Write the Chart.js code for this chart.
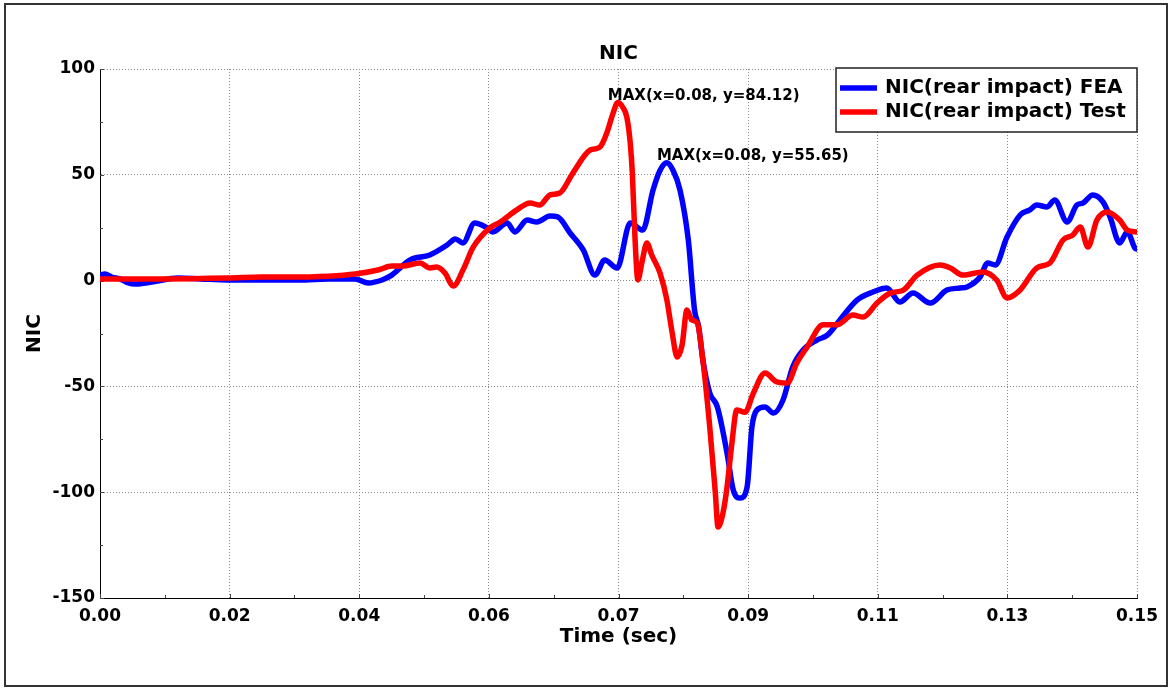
<!DOCTYPE html>
<html><head><meta charset="utf-8">
<script src="https://cdn.jsdelivr.net/npm/chart.js@4.4.0/dist/chart.umd.min.js"></script>
<style>html,body{margin:0;padding:0;background:#fff;}canvas{display:block;}</style>
</head><body>
<canvas id="c" width="1170" height="688"></canvas>
<script>
const chartTitle = 'NIC';
const xAxisTitle = 'Time (sec)';
const yAxisTitle = 'NIC';
const seriesLabels = ['NIC(rear impact) FEA', 'NIC(rear impact) Test'];
const seriesColors = ['#0000ff', '#ff0000'];
const maxLabels = ['MAX(x=0.08, y=55.65)', 'MAX(x=0.08, y=84.12)'];
const xTickValues = [0, 0.01875, 0.0375, 0.05625, 0.075, 0.09375, 0.1125, 0.13125, 0.15];
const xTickLabels = ['0.00','0.02','0.04','0.06','0.07','0.09','0.11','0.13','0.15'];
const yTickValues = [-150, -100, -50, 0, 50, 100];
const yTickLabels = ['-150','-100','-50','0','50','100'];

const feaTime = [0, 0.0007, 0.0017, 0.0029, 0.0041, 0.0051, 0.0075, 0.0113, 0.0145, 0.0185, 0.0234, 0.0289, 0.0330, 0.0369, 0.0388, 0.0408, 0.0422, 0.0448, 0.0477, 0.0502, 0.0514, 0.0525, 0.0542, 0.0560, 0.0568, 0.0589, 0.0600, 0.0618, 0.0632, 0.0651, 0.0662, 0.0680, 0.0699, 0.0716, 0.0730, 0.0748, 0.0767, 0.0785, 0.0800, 0.0810, 0.0820, 0.0829, 0.0839, 0.0851, 0.0860, 0.0866, 0.0872, 0.0882, 0.0893, 0.0907, 0.0916, 0.0926, 0.0936, 0.0943, 0.0950, 0.0962, 0.0974, 0.0988, 0.1002, 0.1017, 0.1037, 0.1052, 0.1070, 0.1095, 0.1118, 0.1138, 0.1157, 0.1176, 0.1201, 0.1225, 0.1244, 0.1254, 0.1273, 0.1284, 0.1295, 0.1312, 0.1331, 0.1345, 0.1355, 0.1370, 0.1381, 0.1399, 0.1413, 0.1422, 0.1436, 0.1451, 0.1461, 0.1475, 0.1486, 0.1497, 0.1500];
const feaNic = [2.6, 3.1, 1.7, 0.8, -1.1, -1.6, -0.7, 1.2, 0.8, 0.3, 0.3, 0.3, 0.8, 0.8, -1.1, 0.3, 2.6, 9.7, 12.1, 16.8, 19.7, 17.8, 27.2, 24.9, 23.0, 27.2, 23.0, 28.6, 27.7, 30.5, 30.1, 22.5, 14.5, 2.6, 9.7, 5.9, 27.2, 23.9, 42.8, 52.0, 55.65, 52.0, 42.8, 19.1, -14.0, -21.9, -37.5, -53.1, -59.7, -81.5, -99.0, -102.8, -97.6, -69.2, -61.2, -59.7, -62.6, -56.4, -40.8, -32.8, -28.1, -25.8, -18.7, -9.2, -5.4, -3.5, -10.1, -5.9, -10.6, -4.5, -3.5, -3.0, 1.7, 8.3, 7.4, 20.6, 31.0, 33.4, 35.7, 34.8, 38.1, 27.7, 35.7, 36.7, 40.5, 37.1, 30.1, 17.8, 23.0, 15.4, 14.9];

const testTime = [0, 0.0090, 0.0185, 0.0234, 0.0272, 0.0330, 0.0369, 0.0402, 0.0422, 0.0438, 0.0463, 0.0477, 0.0487, 0.0499, 0.0511, 0.0525, 0.0540, 0.0564, 0.0579, 0.0603, 0.0622, 0.0636, 0.0651, 0.0665, 0.0684, 0.0709, 0.0723, 0.0733, 0.0742, 0.0749, 0.0756, 0.0762, 0.0767, 0.0770, 0.0774, 0.0778, 0.0784, 0.0791, 0.0798, 0.0810, 0.0820, 0.0827, 0.0835, 0.0842, 0.0849, 0.0856, 0.0864, 0.0872, 0.0882, 0.0890, 0.0894, 0.0901, 0.0907, 0.0914, 0.0921, 0.0933, 0.0945, 0.0962, 0.0979, 0.0994, 0.1008, 0.1023, 0.1046, 0.1066, 0.1089, 0.1104, 0.1124, 0.1143, 0.1162, 0.1182, 0.1215, 0.1230, 0.1248, 0.1277, 0.1297, 0.1312, 0.1331, 0.1355, 0.1374, 0.1393, 0.1407, 0.1418, 0.1429, 0.1442, 0.1457, 0.1475, 0.1486, 0.1500];
const testNic = [0.8, 0.8, 1.2, 1.7, 1.7, 2.1, 3.1, 5.0, 6.9, 6.9, 8.3, 6.0, 6.4, 3.6, -2.6, 5.0, 15.9, 24.9, 27.7, 33.4, 36.7, 35.7, 40.5, 41.4, 50.8, 61.7, 63.1, 69.7, 79.0, 84.12, 82.0, 77.3, 65.0, 50.8, 19.1, 0.3, 8.8, 17.8, 12.1, 3.6, -9.2, -23.4, -36.1, -30.4, -13.9, -18.6, -20.1, -37.5, -69.2, -100, -116.5, -110, -97.6, -76.9, -61.2, -62.2, -53.2, -43.7, -47.9, -48.4, -38.9, -31.3, -20.9, -20.9, -16.3, -17.2, -10.6, -5.9, -4.5, 2.6, 7.4, 6.0, 2.6, 4.1, 0.3, -8.2, -4.4, 6.0, 8.3, 19.2, 21.5, 25.3, 15.9, 28.6, 32.4, 28.6, 23.9, 23.0];

const FONT = "'DejaVu Sans', 'Liberation Sans', sans-serif";
Chart.defaults.font.family = FONT;
Chart.defaults.color = '#000';

const feaData = feaTime.map((t, i) => ({x: t, y: feaNic[i]}));
const testData = testTime.map((t, i) => ({x: t, y: testNic[i]}));

const decor = {
  id: 'decor',
  beforeDatasetsDraw(chart) {
    const {ctx, chartArea: a, scales: {x, y}} = chart;
    ctx.save();
    ctx.strokeStyle = '#444';
    ctx.lineWidth = 1;
    ctx.beginPath();
    for (let i = 0; i < xTickValues.length; i++) {
      const px = Math.round(x.getPixelForValue(xTickValues[i])) + 0.5;
      ctx.moveTo(px, a.bottom); ctx.lineTo(px, a.bottom - 4);
      if (i < xTickValues.length - 1) {
        const m = Math.round(x.getPixelForValue((xTickValues[i] + xTickValues[i + 1]) / 2)) + 0.5;
        ctx.moveTo(m, a.bottom); ctx.lineTo(m, a.bottom - 3);
      }
    }
    for (let i = 0; i < yTickValues.length; i++) {
      const py = Math.round(y.getPixelForValue(yTickValues[i])) + 0.5;
      ctx.moveTo(a.left, py); ctx.lineTo(a.left + 4, py);
      if (i < yTickValues.length - 1) {
        const m = Math.round(y.getPixelForValue((yTickValues[i] + yTickValues[i + 1]) / 2)) + 0.5;
        ctx.moveTo(a.left, m); ctx.lineTo(a.left + 3, m);
      }
    }
    ctx.stroke();
    ctx.restore();
  },
  afterDraw(chart) {
    const {ctx, chartArea: a, scales: {x, y}} = chart;
    ctx.save();
    ctx.fillStyle = '#000';
    ctx.font = 'bold 20px ' + FONT;
    ctx.textAlign = 'center';
    ctx.textBaseline = 'alphabetic';
    ctx.fillText(chartTitle, (a.left + a.right) / 2, 59);
    ctx.font = 'bold 15px ' + FONT;
    ctx.textAlign = 'left';
    chart.data.datasets.forEach((ds, i) => {
      let best = ds.data[0];
      ds.data.forEach(p => { if (p.y > best.y) best = p; });
      const px = x.getPixelForValue(best.x);
      const py = y.getPixelForValue(best.y);
      ctx.fillText(maxLabels[i], px - 10, py - 2.5);
    });
    const lw = 301, lh = 64;
    const lx = a.right - lw, ly = a.top - 1;
    ctx.fillStyle = '#fff';
    ctx.fillRect(lx, ly, lw, lh);
    ctx.strokeStyle = '#222';
    ctx.lineWidth = 1.5;
    ctx.strokeRect(lx, ly, lw, lh);
    ctx.font = 'bold 20px ' + FONT;
    ctx.textBaseline = 'middle';
    chart.data.datasets.forEach((ds, i) => {
      const cy = ly + 20 + i * 24;
      ctx.strokeStyle = ds.borderColor;
      ctx.lineWidth = 5.5;
      ctx.beginPath();
      ctx.moveTo(lx + 4, cy); ctx.lineTo(lx + 41, cy);
      ctx.stroke();
      ctx.fillStyle = '#000';
      ctx.fillText(ds.label, lx + 49, cy);
    });
    ctx.strokeStyle = '#333';
    ctx.lineWidth = 2;
    ctx.strokeRect(5, 4, 1162, 682);
    ctx.restore();
  }
};

const tickFont = {size: 17, weight: 'bold', family: FONT};
const titleFont = {size: 20, weight: 'bold', family: FONT};

new Chart(document.getElementById('c'), {
  type: 'line',
  data: {
    datasets: [
      {label: seriesLabels[0], data: feaData, borderColor: seriesColors[0], backgroundColor: seriesColors[0], order: 1},
      {label: seriesLabels[1], data: testData, borderColor: seriesColors[1], backgroundColor: seriesColors[1], order: 0}
    ]
  },
  options: {
    responsive: false,
    animation: false,
    events: [],
    layout: {padding: {left: 0, right: 33, top: 69, bottom: 0}},
    elements: {
      point: {radius: 0},
      line: {borderWidth: 5.5, cubicInterpolationMode: 'monotone', borderCapStyle: 'round', borderJoinStyle: 'round', fill: false}
    },
    plugins: {legend: {display: false}, tooltip: {enabled: false}, title: {display: false}},
    scales: {
      x: {
        type: 'linear', min: 0, max: 0.15,
        afterBuildTicks: s => { s.ticks = xTickValues.map(v => ({value: v})); },
        afterFit: s => { s.height = 90; },
        ticks: {callback: (v, i) => xTickLabels[i], padding: 8, color: '#000', font: tickFont, maxRotation: 0, autoSkip: false},
        grid: {color: '#8a8a8a', lineWidth: 1, drawTicks: false},
        border: {display: true, color: '#000', width: 1, dash: [1, 2]},
        title: {display: true, text: xAxisTitle, color: '#000', font: titleFont, padding: {top: 0, bottom: 39}}
      },
      y: {
        type: 'linear', min: -150, max: 100,
        afterBuildTicks: s => { s.ticks = yTickValues.map(v => ({value: v})); },
        afterFit: s => { s.width = 100; },
        ticks: {callback: (v, i) => yTickLabels[i], padding: 5, color: '#000', font: tickFont},
        grid: {color: '#8a8a8a', lineWidth: 1, drawTicks: false},
        border: {display: true, color: '#000', width: 1, dash: [1, 2]},
        title: {display: true, text: yAxisTitle, color: '#000', font: titleFont, padding: {top: 23, bottom: 0}}
      }
    }
  },
  plugins: [decor]
});
</script>
</body></html>
